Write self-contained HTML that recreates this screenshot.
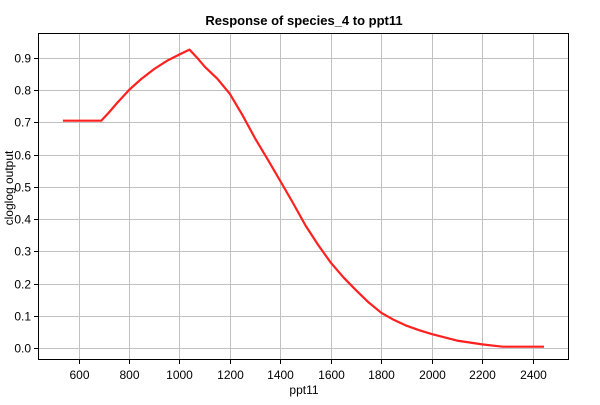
<!DOCTYPE html>
<html><head><meta charset="utf-8"><style>
body{margin:0;background:#fff;font-family:"Liberation Sans",sans-serif;}
svg text{font-family:"Liberation Sans",sans-serif;fill:#000;}
</style></head><body>
<svg id="chart" width="600" height="400" viewBox="0 0 600 400">
<rect x="0" y="0" width="600" height="400" fill="#fff"/>
<text x="304" y="25" text-anchor="middle" font-size="13" font-weight="bold">Response of species_4 to ppt11</text>
<g id="grid"></g>
<g id="ticks"></g>
<rect x="38.5" y="33.5" width="530" height="326" fill="none" stroke="#000" stroke-width="1"/>
<polyline id="line" fill="none" stroke="#ff2020" stroke-width="2.2" stroke-linejoin="round"/>
<text x="304" y="394" text-anchor="middle" font-size="12">ppt11</text>
<text transform="translate(13,188) rotate(-90)" text-anchor="middle" font-size="12">cloglog output</text>
</svg>
<script>
const xTicks=[600,800,1000,1200,1400,1600,1800,2000,2200,2400];
const yTicks=[0,0.1,0.2,0.3,0.4,0.5,0.6,0.7,0.8,0.9];
const xVals=[538,690,720,750,800,850,900,950,1000,1040,1070,1100,1150,1200,1250,1300,1350,1400,1450,1500,1550,1600,1650,1700,1750,1800,1850,1900,1950,2000,2100,2200,2280,2445];
const yVals=[0.705,0.705,0.73,0.757,0.800,0.835,0.865,0.890,0.910,0.925,0.900,0.872,0.835,0.788,0.722,0.650,0.585,0.518,0.450,0.380,0.320,0.265,0.220,0.180,0.142,0.110,0.088,0.070,0.056,0.044,0.024,0.012,0.005,0.005];
const NS="http://www.w3.org/2000/svg";
function sx(v){return 78.5+(v-600)*0.2523;}
function sy(v){return 348.3-v*322.9;}
const grid=document.getElementById('grid'),ticks=document.getElementById('ticks');
xTicks.forEach(t=>{
 const x=Math.round(sx(t))+0.5;
 const g=document.createElementNS(NS,'line');
 
 
 g.setAttribute('x1',x);g.setAttribute('x2',x);g.setAttribute('y1',34);g.setAttribute('y2',360);g.setAttribute('stroke','#c0c0c0');
 grid.appendChild(g);
 const k=document.createElementNS(NS,'line');
 
 
 k.setAttribute('x1',x);k.setAttribute('x2',x);k.setAttribute('y1',360);k.setAttribute('y2',364);k.setAttribute('stroke','#000');
 ticks.appendChild(k);
 const l=document.createElementNS(NS,'text');
 
 
 l.setAttribute('x',x);l.setAttribute('y',379);l.setAttribute('text-anchor','middle');l.setAttribute('font-size','12');
 l.textContent=t;ticks.appendChild(l);
});
yTicks.forEach(t=>{
 const y=Math.round(sy(t))+0.5;
 const g=document.createElementNS(NS,'line');
 
 
 g.setAttribute('x1',39);g.setAttribute('x2',568);g.setAttribute('y1',y);g.setAttribute('y2',y);g.setAttribute('stroke','#c0c0c0');
 grid.appendChild(g);
 const k=document.createElementNS(NS,'line');
 
 
 k.setAttribute('x1',34);k.setAttribute('x2',38.5);k.setAttribute('y1',y);k.setAttribute('y2',y);k.setAttribute('stroke','#000');
 ticks.appendChild(k);
 const l=document.createElementNS(NS,'text');
 
 
 l.setAttribute('x',31);l.setAttribute('y',y+4);l.setAttribute('text-anchor','end');l.setAttribute('font-size','12');
 l.textContent=t.toFixed(1);ticks.appendChild(l);
});
document.getElementById('line').setAttribute('points',xVals.map((v,i)=>sx(v).toFixed(1)+','+sy(yVals[i]).toFixed(1)).join(' '));
</script>
</body></html>
